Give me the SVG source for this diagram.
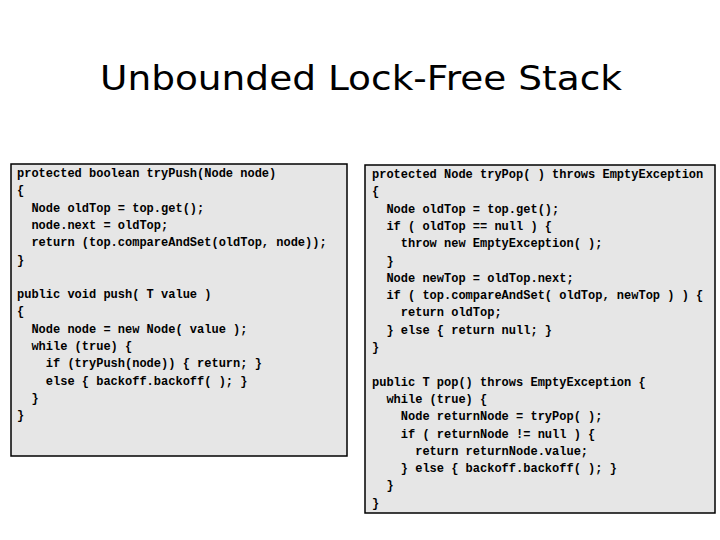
<svg xmlns="http://www.w3.org/2000/svg" width="720" height="540" viewBox="0 0 720 540">
<style>
.box{fill:#e6e6e6;stroke:#000;stroke-width:1.5}
.c{font-family:"Liberation Mono",monospace;font-weight:bold;font-size:12px;fill:#000;white-space:pre}
.t{font-family:"DejaVu Sans",sans-serif;font-size:34px;fill:#000}
</style>
<rect width="720" height="540" fill="#fff"/>
<text class="t" x="361" y="90" text-anchor="middle" textLength="522" lengthAdjust="spacingAndGlyphs">Unbounded Lock-Free Stack</text>
<g id="push">
<rect class="box" x="11" y="164" width="336" height="292"/>
<text class="c" x="17" y="177" xml:space="preserve"><tspan x="17" dy="0">protected boolean tryPush(Node node)</tspan><tspan x="17" dy="17.3">{</tspan><tspan x="17" dy="17.3">  Node oldTop = top.get();</tspan><tspan x="17" dy="17.3">  node.next = oldTop;</tspan><tspan x="17" dy="17.3">  return (top.compareAndSet(oldTop, node));</tspan><tspan x="17" dy="17.3">}</tspan><tspan x="17" dy="34.6">public void push( T value )</tspan><tspan x="17" dy="17.3">{</tspan><tspan x="17" dy="17.3">  Node node = new Node( value );</tspan><tspan x="17" dy="17.3">  while (true) {</tspan><tspan x="17" dy="17.3">    if (tryPush(node)) { return; }</tspan><tspan x="17" dy="17.3">    else { backoff.backoff( ); }</tspan><tspan x="17" dy="17.3">  }</tspan><tspan x="17" dy="17.3">}</tspan></text>
</g>
<g id="pop">
<rect class="box" x="365" y="165" width="350" height="348"/>
<text class="c" x="372" y="178" xml:space="preserve"><tspan x="372" dy="0">protected Node tryPop( ) throws EmptyException</tspan><tspan x="372" dy="17.3">{</tspan><tspan x="372" dy="17.3">  Node oldTop = top.get();</tspan><tspan x="372" dy="17.3">  if ( oldTop == null ) {</tspan><tspan x="372" dy="17.3">    throw new EmptyException( );</tspan><tspan x="372" dy="17.3">  }</tspan><tspan x="372" dy="17.3">  Node newTop = oldTop.next;</tspan><tspan x="372" dy="17.3">  if ( top.compareAndSet( oldTop, newTop ) ) {</tspan><tspan x="372" dy="17.3">    return oldTop;</tspan><tspan x="372" dy="17.3">  } else { return null; }</tspan><tspan x="372" dy="17.3">}</tspan><tspan x="372" dy="34.6">public T pop() throws EmptyException {</tspan><tspan x="372" dy="17.3">  while (true) {</tspan><tspan x="372" dy="17.3">    Node returnNode = tryPop( );</tspan><tspan x="372" dy="17.3">    if ( returnNode != null ) {</tspan><tspan x="372" dy="17.3">      return returnNode.value;</tspan><tspan x="372" dy="17.3">    } else { backoff.backoff( ); }</tspan><tspan x="372" dy="17.3">  }</tspan><tspan x="372" dy="17.3">}</tspan></text>
</g>
</svg>
